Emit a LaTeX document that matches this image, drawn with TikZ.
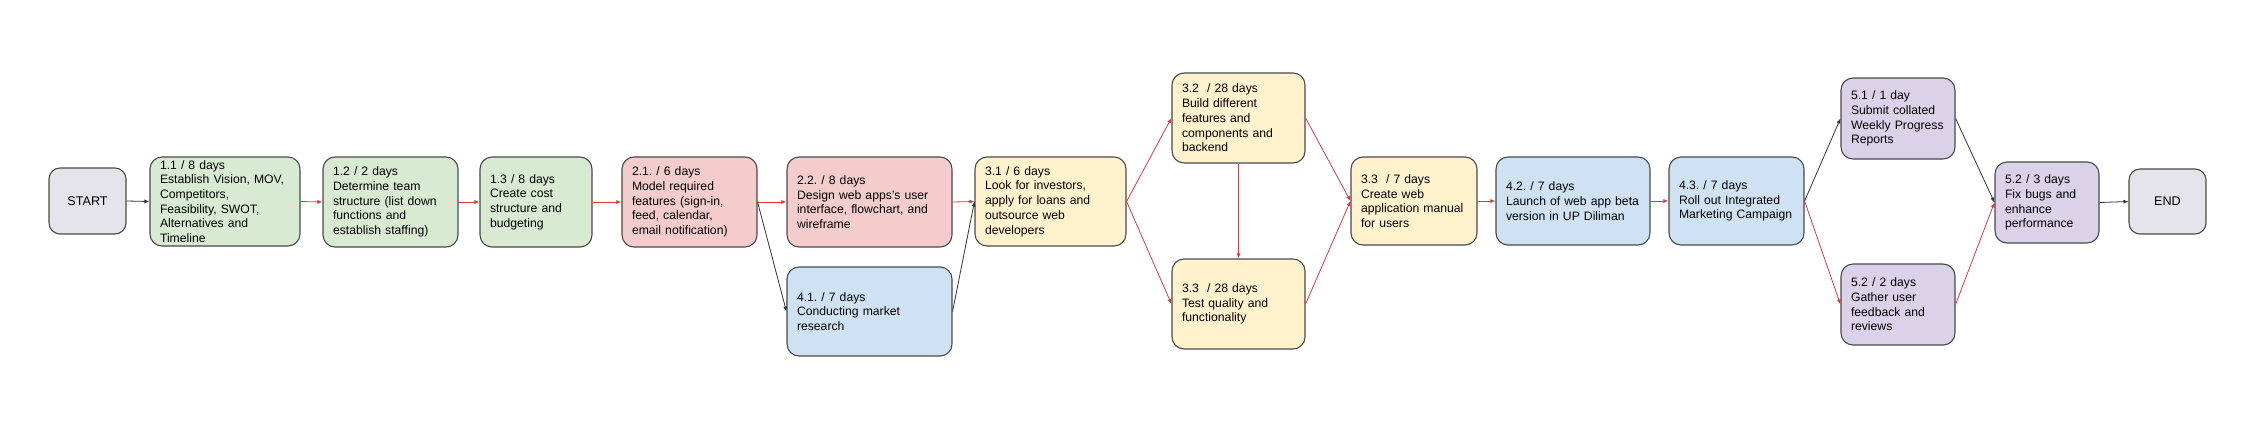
\documentclass[tikz,border=0pt]{standalone}
\usepackage{fontspec}
\setmainfont{Liberation Sans}
\usepackage{tikz}
\usetikzlibrary{calc,positioning,arrows.meta,shapes}
\frenchspacing

\definecolor{fill_start}{HTML}{E4E4EA}
\definecolor{fill_green}{HTML}{D9EAD3}
\definecolor{fill_red}{HTML}{F4CCCC}
\definecolor{fill_yellow}{HTML}{FFF2CC}
\definecolor{fill_blue}{HTML}{CFE2F3}
\definecolor{fill_purple}{HTML}{D9D2E9}
\definecolor{line_border}{HTML}{4A4A4A}
\definecolor{line_red}{HTML}{E0363E}
\definecolor{line_black}{HTML}{333333}

\tikzset{
  task/.style={rectangle,rounded corners=12pt,draw=line_border,line width=1.1pt,
    align=left,inner xsep=10pt,inner ysep=0pt,text width=#1,
    font=\fontsize{12.2pt}{14.7pt}\selectfont},
  terminal/.style={rectangle,rounded corners=11pt,draw=line_border,line width=1.1pt,
    fill=fill_start,minimum width=77pt,minimum height=66pt,
    font=\fontsize{12.6pt}{14.7pt}\selectfont},
  red_arrow/.style={draw=line_red,line width=0.8pt,-{Latex[length=5pt,width=4pt]}},
  black_arrow/.style={draw=line_black,line width=0.8pt,-{Latex[length=5pt,width=4pt]}},
}

\begin{document}
\begin{tikzpicture}[x=1pt,y=-1pt]

  \useasboundingbox (0,0) rectangle (2250,423);

  \node (start) [terminal] at(87.5,201) {START};

  %% phase 1
  \node (task_11) [task=130pt,fill=fill_green,minimum height=89pt] at(225,201.5)
       {1.1 / 8 days\\Establish Vision, MOV,\\Competitors,\\Feasibility, SWOT,\\Alternatives and\\Timeline};
  \node (task_12) [task=115pt,fill=fill_green,minimum height=90pt] at(390.5,202)
       {1.2 / 2 days\\Determine team\\structure (list down\\functions and\\establish staffing)};
  \node (task_13) [task=92pt,fill=fill_green,minimum height=90pt] at(536,202)
       {1.3 / 8 days\\Create cost\\structure and\\budgeting};

  %% phase 2
  \node (task_21) [task=115pt,fill=fill_red,minimum height=90pt] at(689.5,202)
       {2.1. / 6 days\\Model required\\features (sign-in,\\feed, calendar,\\email notification)};
  \node (task_22) [task=145pt,fill=fill_red,minimum height=90pt] at(869.5,202)
       {2.2. / 8 days\\Design web apps's user\\interface, flowchart, and\\wireframe};
  \node (task_41) [task=145pt,fill=fill_blue,minimum height=89pt] at(869.5,311.5)
       {4.1. / 7 days\\Conducting market\\research};

  %% phase 3
  \node (task_31) [task=131pt,fill=fill_yellow,minimum height=89pt] at(1050.5,201.5)
       {3.1 / 6 days\\Look for investors,\\apply for loans and\\outsource web\\developers};
  \node (task_32) [task=113pt,fill=fill_yellow,minimum height=90pt] at(1238.5,118)
       {3.2~ / 28 days\\Build different\\features and\\components and\\backend};
  \node (task_33t) [task=113pt,fill=fill_yellow,minimum height=90pt] at(1238.5,304)
       {3.3~ / 28 days\\Test quality and\\functionality};
  \node (task_33m) [task=106pt,fill=fill_yellow,minimum height=88pt] at(1414,201)
       {3.3~ / 7 days\\Create web\\application manual\\for users};

  %% phase 4
  \node (task_42) [task=134pt,fill=fill_blue,minimum height=88pt] at(1573,201)
       {4.2. / 7 days\\Launch of web app beta\\version in UP Diliman};
  \node (task_43) [task=115pt,fill=fill_blue,minimum height=88pt] at(1736.5,201)
       {4.3. / 7 days\\Roll out Integrated\\Marketing Campaign};

  %% phase 5
  \node (task_51) [task=94pt,fill=fill_purple,minimum height=81pt] at(1898,118.5)
       {5.1 / 1 day\\Submit collated\\Weekly Progress\\Reports};
  \node (task_52g) [task=94pt,fill=fill_purple,minimum height=81pt] at(1898,304.5)
       {5.2 / 2 days\\Gather user\\feedback and\\reviews};
  \node (task_52f) [task=84pt,fill=fill_purple,minimum height=81pt] at(2047,202.5)
       {5.2 / 3 days\\Fix bugs and\\enhance\\performance};

  \node (end) [terminal,minimum height=65pt] at(2167.5,201.5) {END};

  \foreach \a/\b in {task_11/task_12,task_12/task_13,task_13/task_21,task_21/task_22,%
                     task_22/task_31,task_31/task_32,task_31/task_33t,task_32/task_33m,%
                     task_33t/task_33m,task_33m/task_42,task_42/task_43,task_43/task_52g,%
                     task_52g/task_52f}
           {
             \draw[red_arrow] (\a.east) -- (\b.west);
           }

  \foreach \a/\b in {start/task_11,task_21/task_41,task_41/task_31,task_43/task_51,%
                     task_51/task_52f,task_52f/end}
           {
             \draw[black_arrow] (\a.east) -- (\b.west);
           }

  \draw[red_arrow] (task_32.south) -- (task_33t.north);

\end{tikzpicture}
\end{document}
